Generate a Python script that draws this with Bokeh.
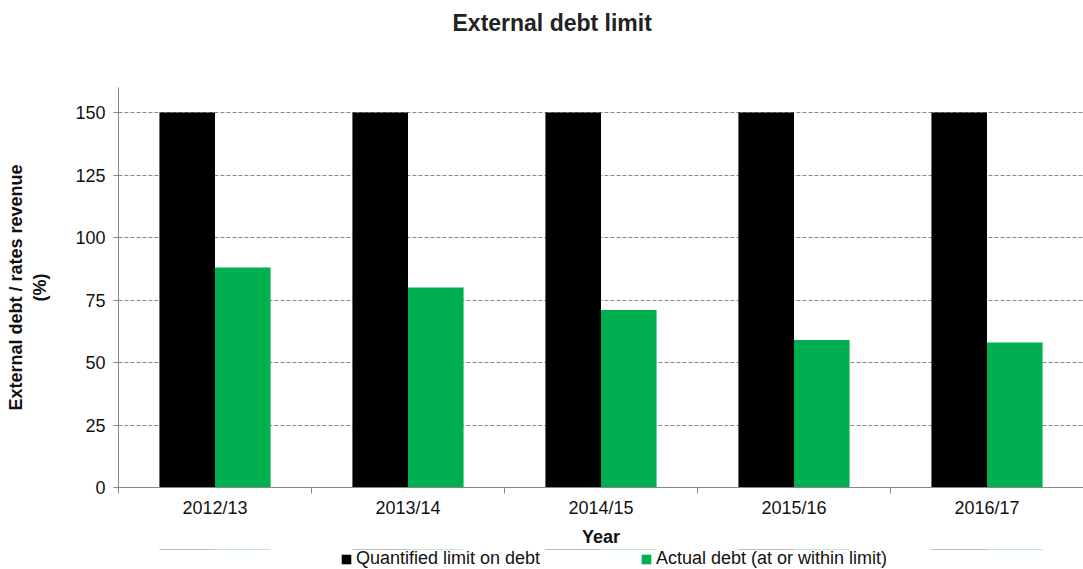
import numpy as np
from bokeh.plotting import figure
from bokeh.layouts import column
from bokeh.models import ColumnDataSource, FixedTicker, Legend, LegendItem, Range1d, Title
from bokeh.embed import file_html
from bokeh.resources import INLINE

years = ["2012/13", "2013/14", "2014/15", "2015/16", "2016/17"]
limit = [150, 150, 150, 150, 150]
actual = [88, 80, 71, 59, 58]
y_ticks = [0, 25, 50, 75, 100, 125, 150]
series_names = ["Quantified limit on debt", "Actual debt (at or within limit)"]
series_colors = ["#000000", "#00B050"]

FONT = "Liberation Sans"
bar_w = 0.288
idx = np.arange(len(years))

src = ColumnDataSource(dict(
    x_lim=idx + 0.5 - bar_w / 2,
    x_act=idx + 0.5 + bar_w / 2,
    limit=limit,
    actual=actual,
))

p = figure(frame_width=965, frame_height=400, output_backend="svg", toolbar_location=None,
           x_range=Range1d(0, len(years)), y_range=Range1d(0, 160),
           min_border_left=118, min_border_top=87, min_border_bottom=0,
           min_border_right=0, outline_line_color=None)

p.vbar(x="x_lim", top="limit", width=bar_w, source=src, fill_color=series_colors[0], line_color=None)
p.vbar(x="x_act", top="actual", width=bar_w, source=src, fill_color=series_colors[1], line_color=None)

# titles: spacer nearest the frame, then the real title above it
p.title.text = ""
p.add_layout(Title(text=" ", text_font=FONT, text_font_size="22px", standoff=20), "above")
p.add_layout(Title(text="External debt limit", text_font=FONT, text_font_size="23px",
                   text_font_style="bold", text_color="#222222", align="left",
                   offset=334, standoff=10), "above")

# x axis
xa = p.xaxis[0]
xa.ticker = FixedTicker(ticks=list(idx + 0.5), minor_ticks=list(range(len(years) + 1)))
xa.major_label_overrides = {float(i + 0.5): years[i] for i in idx}
xa.major_tick_line_color = None
xa.minor_tick_line_color = "#888888"
xa.minor_tick_out = 6
xa.minor_tick_in = 0
xa.axis_line_color = "#888888"
xa.major_label_text_font = FONT
xa.major_label_text_font_size = "18px"
xa.major_label_text_color = "#111111"
xa.major_label_standoff = 4
xa.axis_label = "Year"
xa.axis_label_text_font = FONT
xa.axis_label_text_font_size = "18px"
xa.axis_label_text_font_style = "bold"
xa.axis_label_text_color = "#111111"
xa.axis_label_standoff = 6

# y axis
ya = p.yaxis[0]
ya.ticker = FixedTicker(ticks=y_ticks)
ya.minor_tick_line_color = None
ya.major_tick_line_color = "#888888"
ya.major_tick_out = 5
ya.major_tick_in = 0
ya.axis_line_color = "#888888"
ya.major_label_text_font = FONT
ya.major_label_text_font_size = "18px"
ya.major_label_text_color = "#111111"
ya.major_label_standoff = 8
ya.axis_label = "External debt / rates revenue\n(%)"
ya.axis_label_text_font = FONT
ya.axis_label_text_font_size = "18px"
ya.axis_label_text_font_style = "bold"
ya.axis_label_text_color = "#111111"
ya.axis_label_standoff = 22

p.xgrid.grid_line_color = None
p.ygrid.ticker = FixedTicker(ticks=y_ticks)
p.ygrid.grid_line_color = "#888888"
p.ygrid.grid_line_dash = "4 2"

# legend strip below the chart (its renderers use the same data, far out of view)
p2 = figure(frame_width=965, frame_height=21, output_backend="svg", toolbar_location=None,
            x_axis_location=None, y_axis_location=None,
            x_range=Range1d(0, len(years)), y_range=Range1d(-200, -100),
            min_border_left=118, min_border_right=0, min_border_top=0, min_border_bottom=0,
            outline_line_color=None)
p2.grid.visible = False
items = []
for name, col, xcol, ycol in zip(series_names, series_colors, ["x_lim", "x_act"], ["limit", "actual"]):
    rr = p2.vbar(x=xcol, top=ycol, bottom=0, width=bar_w, source=src, fill_color=col, line_color=None)
    items.append(LegendItem(label=name, renderers=[rr], index=0))

legend = Legend(items=items, orientation="horizontal", location=(222, 1),
                glyph_width=12, glyph_height=12, label_standoff=4,
                label_width=284, spacing=0, padding=0, margin=0,
                border_line_color=None, background_fill_alpha=0,
                label_text_font=FONT, label_text_font_size="18px",
                label_text_color="#111111")
p2.add_layout(legend, "center")

layout = column(p, p2, spacing=0)
open("out.html", "w").write(file_html(layout, INLINE))
